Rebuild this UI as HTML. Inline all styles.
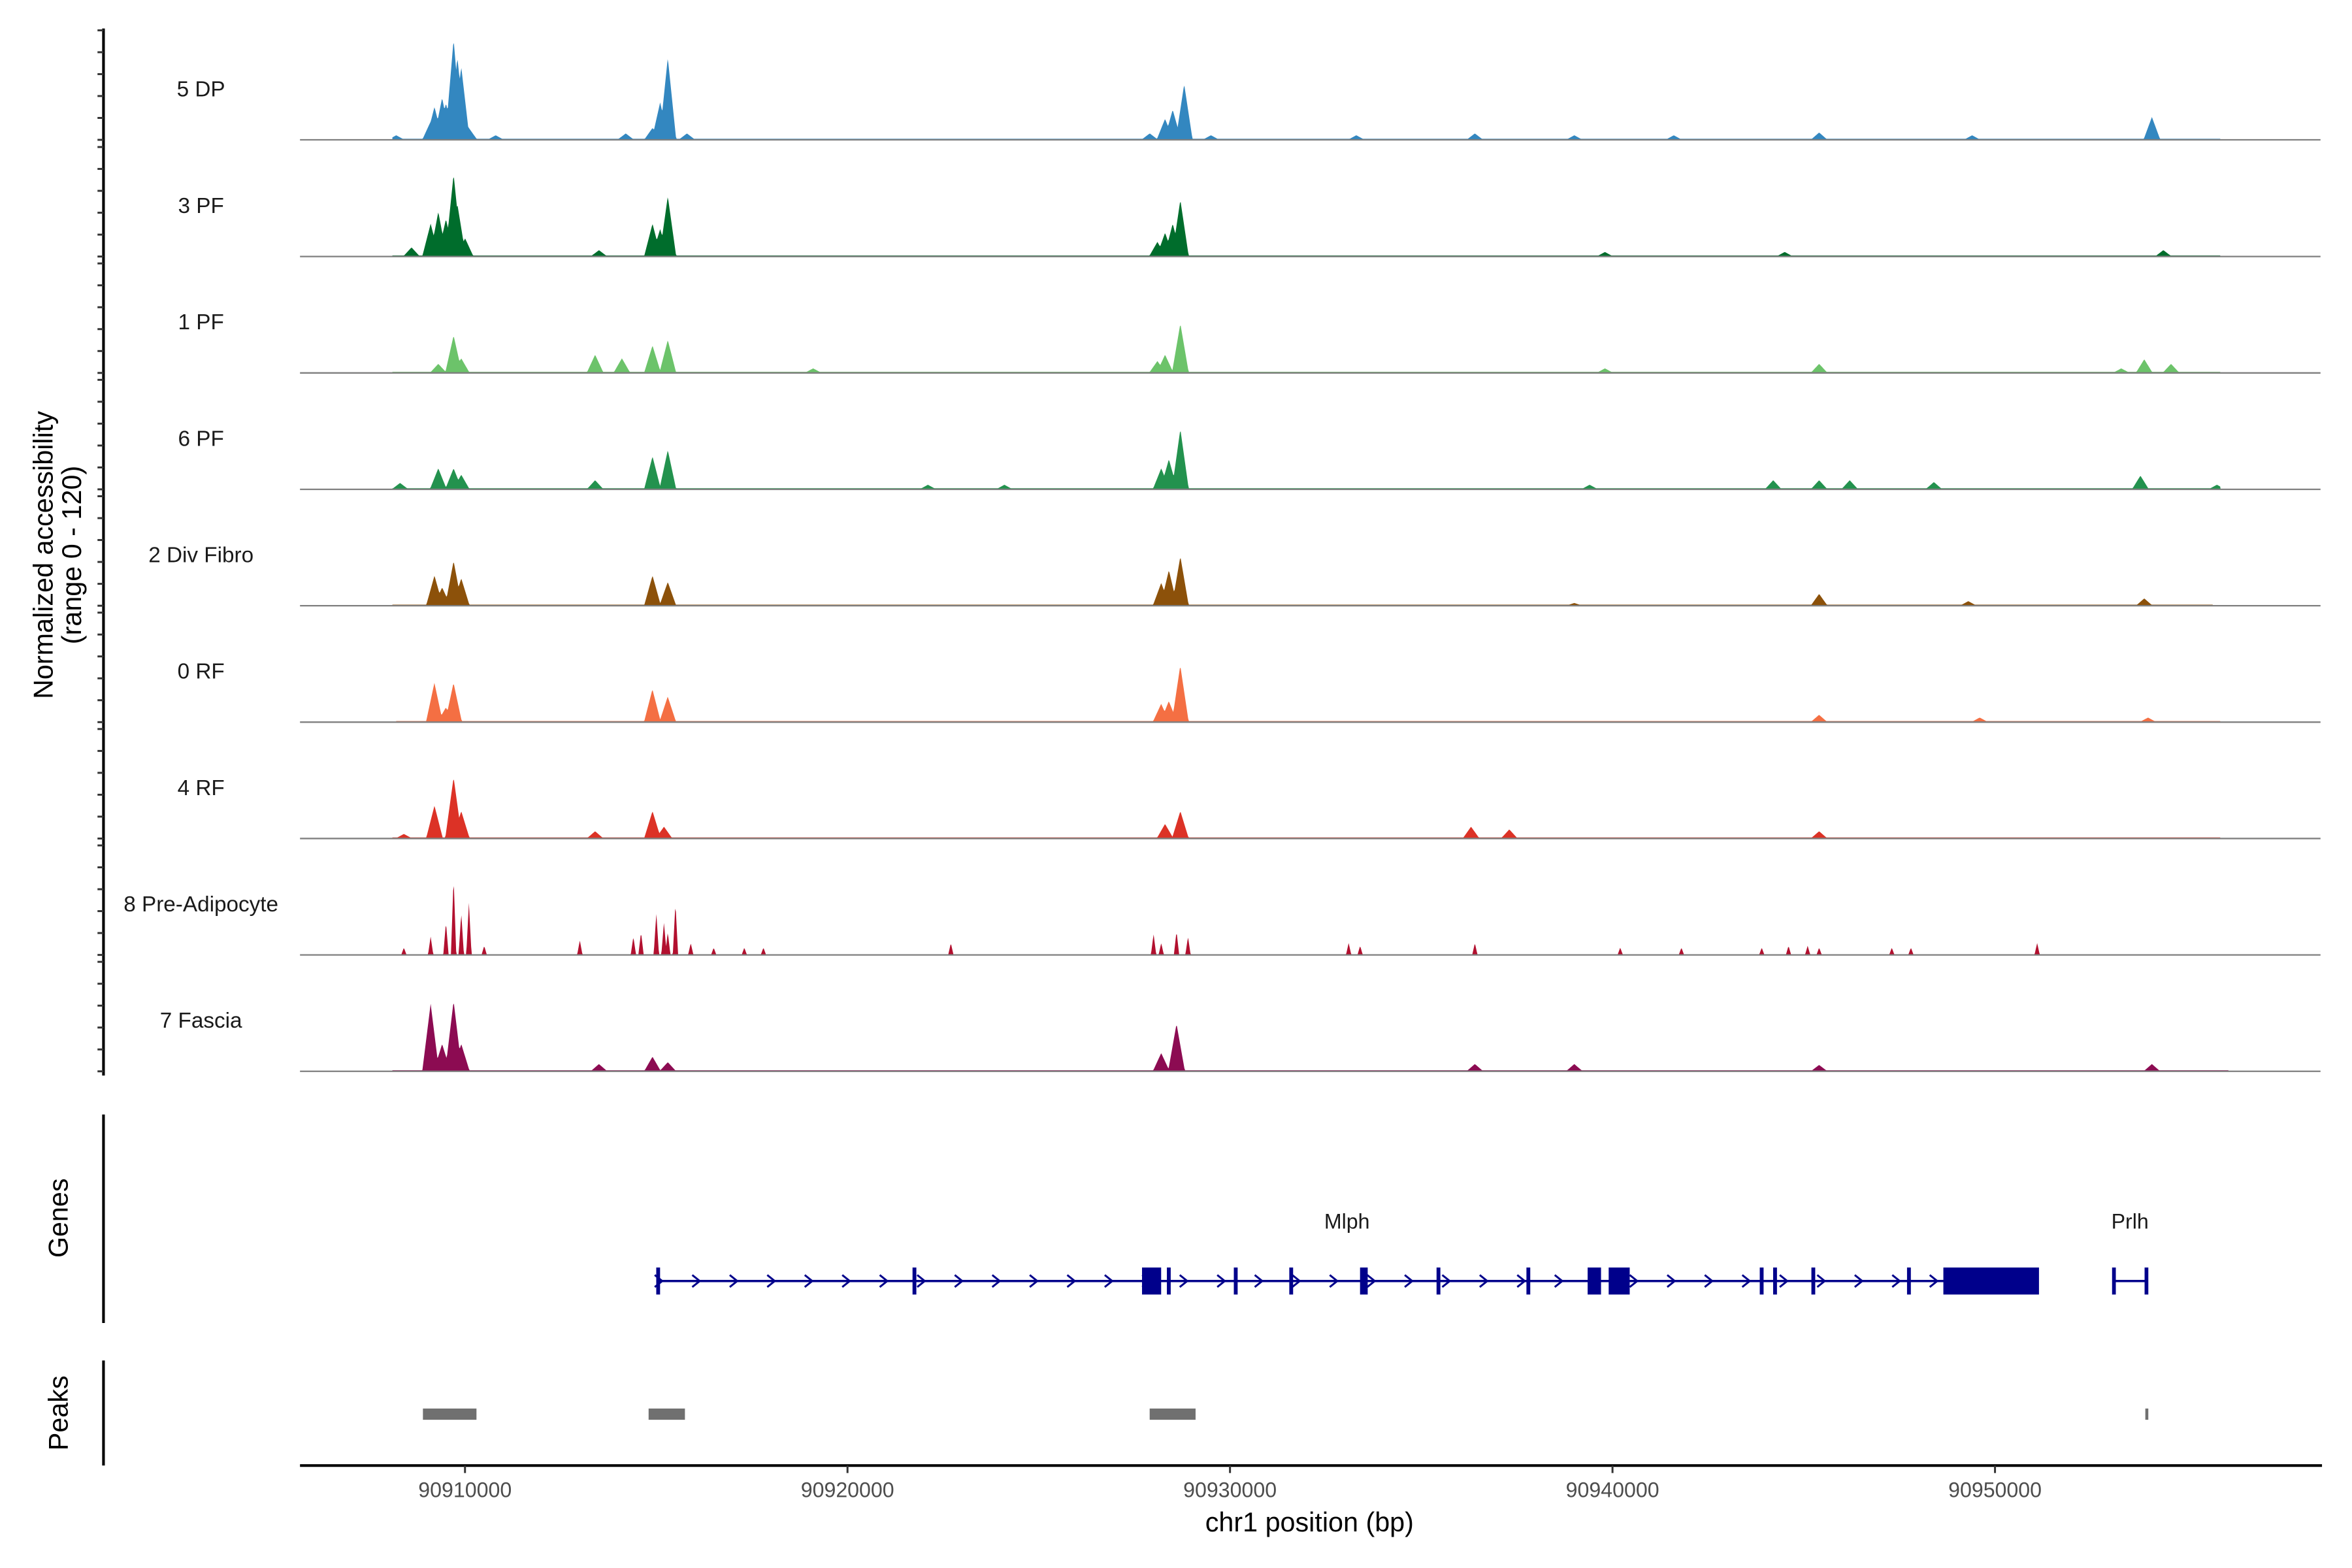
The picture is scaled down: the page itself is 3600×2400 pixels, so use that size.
<!DOCTYPE html>
<html><head><meta charset="utf-8"><style>
html,body{margin:0;padding:0;background:#fff;}
svg{display:block;font-family:"Liberation Sans",Arial,sans-serif;}
</style></head><body>
<svg id="chart" width="3600" height="2400" viewBox="0 0 1568 1045.3" xmlns="http://www.w3.org/2000/svg">
<g id="tracks"></g>
<g id="genes"></g>
<g id="peaks"></g>
<g id="axes"></g>
</svg>
<script>
// ---- data ----
const trackNames = ["5 DP","3 PF","1 PF","6 PF","2 Div Fibro","0 RF","4 RF","8 Pre-Adipocyte","7 Fascia"];
const trackColors = ["#3387c0","#006d2c","#6cc36a","#23924e","#8c510a","#f46f43","#dc3226","#b2102f","#8c0b52"];
// peak positions (kb) and heights (normalized accessibility, 0-120)
const pos5DP=[90908.2,90909.1,90909.2,90909.4,90909.5,90909.7,90909.8,90909.9,90910.1,90910.8,90914.2,90914.9,90915.1,90915.3,90915.8,90927.9,90928.3,90928.5,90928.8,90929.5,90933.3,90936.4,90939.0,90941.6,90945.4,90949.4,90954.1];
const val5DP=[5,20,36,46,40,110,90,80,13,5,7,13,41,90,7,7,23,33,61,5,5,7,5,5,8,5,25];
const pos3PF=[90908.6,90909.1,90909.3,90909.5,90909.7,90909.8,90910.0,90913.5,90914.9,90915.1,90915.3,90928.1,90928.3,90928.5,90928.7,90939.8,90944.5,90954.4];
const val3PF=[10,36,49,41,90,57,20,7,36,30,66,16,26,36,62,5,5,7];
const pos1PF=[90909.3,90909.7,90909.9,90913.4,90914.1,90914.9,90915.3,90919.1,90928.1,90928.3,90928.7,90939.8,90945.4,90953.3,90953.9,90954.6];
const val1PF=[10,41,16,20,16,30,36,5,13,20,54,5,10,5,15,10];
const pos6PF=[90908.3,90909.3,90909.7,90909.9,90913.4,90914.9,90915.3,90922.1,90924.1,90928.2,90928.4,90928.7,90939.4,90944.2,90945.4,90946.2,90948.4,90953.8,90955.8];
const val6PF=[7,23,23,16,10,36,43,5,5,23,33,66,5,10,10,10,8,15,5];
const posDiv=[90909.2,90909.4,90909.7,90909.9,90914.9,90915.3,90928.2,90928.4,90928.7,90939.0,90945.4,90949.3,90953.9];
const valDiv=[33,20,49,30,33,26,25,39,54,3,13,5,8];
const pos0RF=[90909.2,90909.5,90909.7,90914.9,90915.3,90928.2,90928.4,90928.7,90945.4,90949.6,90954.0];
const val0RF=[43,16,43,36,28,20,23,62,8,5,5];
const pos4RF=[90908.4,90909.2,90909.7,90909.9,90913.4,90914.9,90915.2,90928.3,90928.7,90936.3,90937.3,90945.4];
const val4RF=[5,36,67,30,8,30,13,16,30,13,10,8];
const posPre=[90908.4,90909.1,90909.5,90909.7,90909.9,90910.1,90910.5,90913.0,90914.4,90914.6,90915.0,90915.2,90915.5,90915.3,90915.9,90916.5,90917.3,90917.8,90922.7,90928.0,90928.2,90928.6,90928.9,90933.1,90933.4,90936.4,90940.2,90941.8,90943.9,90944.6,90945.1,90945.4,90947.3,90947.8,90951.1];
const valPre=[8,20,36,85,46,57,10,16,20,25,46,36,57,25,13,8,8,8,13,23,13,26,20,13,10,13,8,8,8,10,10,8,8,8,13];
const posFas=[90909.1,90909.4,90909.7,90909.9,90913.5,90914.9,90915.3,90928.2,90928.6,90936.4,90939.0,90945.4,90954.1];
const valFas=[74,30,77,30,8,16,10,20,52,8,8,7,8];
const trackPos=[pos5DP,pos3PF,pos1PF,pos6PF,posDiv,pos0RF,pos4RF,posPre,posFas];
const trackVal=[val5DP,val3PF,val1PF,val6PF,valDiv,val0RF,val4RF,valPre,valFas];
const trackStart=[90908.1,90908.1,90908.1,90908.1,90908.1,90908.2,90908.1,90908.1,90908.1];
const trackEnd=[90955.9,90955.9,90955.9,90955.9,90955.7,90955.9,90955.9,90951.4,90956.1];
// gene model (kb)
const mlphStart=90915.0, mlphEnd=90950.8;
const exonStarts=[90915.0,90921.7,90927.7,90928.35,90930.1,90931.55,90933.4,90935.4,90937.75,90939.35,90939.9,90943.85,90944.2,90945.2,90947.7,90948.65];
const exonEnds=[90915.1,90921.8,90928.2,90928.45,90930.2,90931.65,90933.6,90935.5,90937.85,90939.7,90940.45,90943.95,90944.3,90945.3,90947.8,90951.15];
const prlhStart=90953.1, prlhEnd=90953.95;
const peakStarts=[90908.9,90914.8,90927.9,90953.93];
const peakEnds=[90910.3,90915.75,90929.1,90953.98];
const xTicks=[90910000,90920000,90930000,90940000,90950000];
const yMax=120;

// ---- scales ----
const X0=310, PX_PER_KB=25.5;
function xs(kb){return X0+(kb-90910)*PX_PER_KB;}
const baselines=[93.2,171,248.6,326.2,403.8,481.4,559,636.6,714.2];
const trackH=73;
function ys(i,v){return baselines[i]-v/yMax*trackH;}
const NS="http://www.w3.org/2000/svg";
function mk(tag,attrs,parent){const e=document.createElementNS(NS,tag);for(const k in attrs)e.setAttribute(k,attrs[k]);parent.appendChild(e);return e;}

const tg=document.getElementById('tracks');
for(let i=0;i<trackNames.length;i++){
  const narrow = i===7;
  const hw = narrow?0.07:0.22; // kb half width
  const x1=xs(trackStart[i]), x2=xs(trackEnd[i]);
  let d=`M${x1},${baselines[i]}`;
  for(let x=x1;x<=x2;x+=0.5){
    const kb=90910+(x-X0)/PX_PER_KB;
    let v=narrow?0:1.2;
    for(let j=0;j<trackPos[i].length;j++){
      const dd=Math.abs(kb-trackPos[i][j]);
      if(dd<hw){const c=trackVal[i][j]*(1-dd/hw); if(c>v) v=c;}
    }
    d+=`L${x.toFixed(1)},${ys(i,v).toFixed(2)}`;
  }
  d+=`L${x2},${baselines[i]}Z`;
  const p=mk('path',{d:d,fill:trackColors[i]},tg);
  
  
  const bl=mk('line',{x1:200,x2:1547,y1:baselines[i],y2:baselines[i],stroke:'#7f7f7f','stroke-width':1},tg);
  
  
  const t=mk('text',{x:134,y:baselines[i]-29,'font-size':14.5,'text-anchor':'middle',fill:'#1a1a1a'},tg);
  t.textContent=trackNames[i];
  
  
}

// genes
const gg=document.getElementById('genes');
const GY=854, NAVY='#00008b';
mk('line',{x1:xs(mlphStart),x2:xs(mlphEnd),y1:GY,y2:GY,stroke:NAVY,'stroke-width':1.5},gg);
for(let x=xs(mlphStart)+2;x<xs(mlphEnd)-60;x+=25){
  const c=mk('path',{d:`M${x-3},${GY-4}L${x+2},${GY}L${x-3},${GY+4}`,fill:'none',stroke:NAVY,'stroke-width':1.3},gg);
  
  
}
for(let j=0;j<exonStarts.length;j++){
  const a=xs(exonStarts[j]), b=Math.max(xs(exonEnds[j]),a+2.5);
  const r=mk('rect',{x:a,y:GY-9,width:b-a,height:18,fill:NAVY},gg);
  
  
}
mk('line',{x1:xs(prlhStart),x2:xs(prlhEnd),y1:GY,y2:GY,stroke:NAVY,'stroke-width':1.5},gg);
mk('rect',{x:xs(prlhStart)-1,y:GY-9,width:2.5,height:18,fill:NAVY},gg);
mk('rect',{x:xs(prlhEnd)-1,y:GY-9,width:2.5,height:18,fill:NAVY},gg);
const gl1=mk('text',{x:898,y:819,'font-size':14,'text-anchor':'middle',fill:'#1a1a1a'},gg);gl1.textContent='Mlph';


const gl2=mk('text',{x:1420,y:819,'font-size':14,'text-anchor':'middle',fill:'#1a1a1a'},gg);gl2.textContent='Prlh';



// peaks
const pg=document.getElementById('peaks');
for(let j=0;j<peakStarts.length;j++){
  const a=xs(peakStarts[j]), b=Math.max(xs(peakEnds[j]),a+2);
  const r=mk('rect',{x:a,y:939,width:b-a,height:7.5,fill:'#707070'},pg);
  
  
}

// axes
const ag=document.getElementById('axes');
mk('line',{x1:69,x2:69,y1:19,y2:717,stroke:'#000','stroke-width':1.8},ag);
for(let i=0;i<baselines.length;i++){
  for(let k=0;k<=5;k++){
    const y=baselines[i]-k*trackH/5;
    const tk=mk('line',{x1:65,x2:69,y1:y,y2:y,stroke:'#333','stroke-width':1.3},ag);
    
    
  }
}
mk('line',{x1:69,x2:69,y1:743,y2:882,stroke:'#000','stroke-width':1.8},ag);
mk('line',{x1:69,x2:69,y1:907,y2:977,stroke:'#000','stroke-width':1.8},ag);
mk('line',{x1:200,x2:1548,y1:977,y2:977,stroke:'#000','stroke-width':1.8},ag);
for(const t of xTicks){
  const x=xs(t/1000);
  mk('line',{x1:x,x2:x,y1:977,y2:982,stroke:'#333','stroke-width':1.3},ag);
  const tl=mk('text',{x:x,y:998,'font-size':14,'text-anchor':'middle',fill:'#4d4d4d'},ag);
  tl.textContent=String(t);
  
  
}
</script>
<script>
const svg=document.getElementById('chart');
function tx(x,y,s,txt,rot){const e=document.createElementNS("http://www.w3.org/2000/svg",'text');e.setAttribute('x',x);e.setAttribute('y',y);e.setAttribute('font-size',s);e.setAttribute('text-anchor','middle');e.setAttribute('fill','#000');if(rot)e.setAttribute('transform',`rotate(-90 ${x} ${y})`);e.textContent=txt;svg.appendChild(e);return e;}
const a1=tx(35,370,18,'Normalized accessibility',true);


const a2=tx(54,370,18,'(range 0 - 120)',true);


const a3=tx(45,812,18,'Genes',true);


const a4=tx(45,942,18,'Peaks',true);


const a5=tx(873,1021,18,'chr1 position (bp)',false);


</script>
</body></html>
